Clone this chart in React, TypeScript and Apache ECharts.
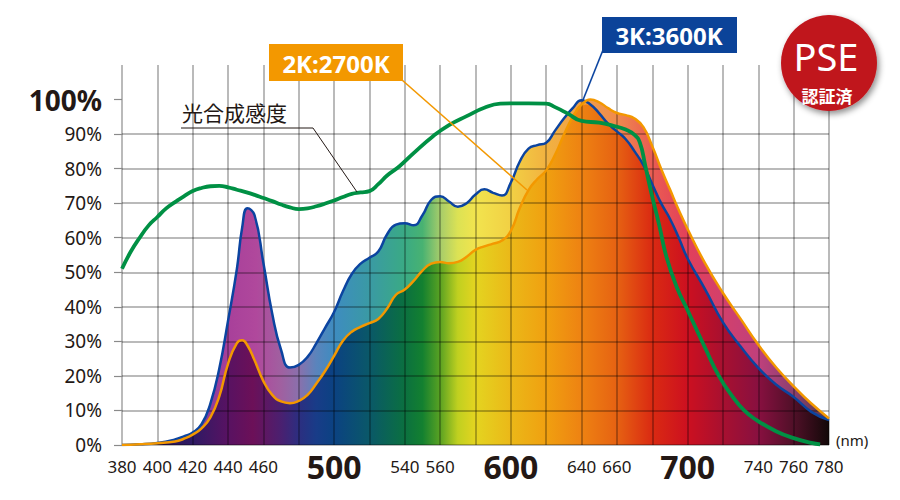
import React, { useEffect, useRef } from "react";
import * as echarts from "echarts";

// Wavelength grid (nm) shared by the two lamp spectra
const NM = [
  380, 390, 400, 410, 415, 420, 425, 430, 435, 440, 445, 448, 451,
  455, 460, 465, 470, 475, 480, 485, 490, 495, 500, 505, 510, 515, 520, 525, 530, 535, 540,
  545, 550, 555, 560, 565, 570, 575, 580, 585, 590, 595, 600, 605, 610, 615, 620, 625, 630,
  635, 640, 645, 650, 655, 660, 665, 670, 675, 680, 685, 690, 695, 700,
  710, 720, 730, 740, 750, 760, 770, 780,
];

// 3K:3600K relative spectrum (%)
const BLUE_3K = [
  0, 0.2, 0.6, 1.6, 2.5, 3.6, 6, 12, 22, 36, 51, 63, 68.5,
  66.5, 52.7, 38, 27.5, 22.4, 23.2, 25.5, 29.5, 34, 38.5, 44.5, 49.5, 52.5, 54.2, 56, 61, 63.8, 64.2,
  63.6, 66.5, 71, 72, 70.5, 69, 70, 72.5, 74, 73, 72.2, 76, 82, 85.8, 86.8, 87.5, 91, 94.5,
  97.5, 99.8, 98.6, 96, 93, 90.8, 88.5, 85, 81, 75.5, 70, 65.5, 60, 54,
  45, 35.5, 28.5, 22.3, 17.5, 13.9, 9.6, 7.2,
];

// 2K:2700K relative spectrum (%)
const ORANGE_2K = [
  0, 0.2, 0.5, 1.0, 1.8, 3.0, 4.8, 8, 14, 23.5, 29.5, 30.3, 28.8,
  24.5, 18.5, 14.5, 12.6, 12.1, 12.8, 14.5, 17.8, 21.5, 25.8, 30.2, 32.8, 34.2, 35.3, 36.5, 39.5, 43.5, 45,
  47.5, 50.5, 52.5, 53, 52.6, 53, 54.5, 56.5, 57.5, 58.3, 59.2, 62, 68.5, 73.8, 77, 79.5, 84, 89.8,
  95, 98.5, 100, 99.2, 97.5, 96.1, 95.5, 94.5, 92, 86.5, 80, 74, 68, 62.5,
  52.5, 44, 36.5, 29, 22.5, 17, 12, 7.7,
];

// Photosynthetic sensitivity curve (光合成感度)
const GREEN_NM = [
  380, 385, 390, 395, 400, 405, 410, 415, 420, 425, 430, 435, 440, 445, 450, 455, 460, 465, 470, 475,
  480, 485, 490, 495, 500, 505, 510, 515, 520, 525, 530,
  537, 545, 556, 565, 575, 585, 594, 600, 610, 620, 625, 632, 640, 650, 658, 665, 670, 673, 676,
  679, 684, 688, 694, 700, 710, 718, 725, 732, 739, 750, 760, 770, 775,
];
const GREEN = [
  51, 56, 60, 63.5, 66, 68.5, 70.3, 72, 73.5, 74.4, 74.9, 75, 74.6, 73.9, 73.2, 72.4, 71.5, 70.6, 69.6, 68.8,
  68.3, 68.5, 69.1, 69.9, 70.8, 71.8, 72.7, 73.1, 73.5, 75.5, 78,
  80.7, 84.5, 89.4, 92.6, 95.2, 97.6, 98.8, 98.9, 98.9, 98.8, 97.8, 96, 93.8, 93.3, 92.4, 91.3, 89.8, 87.5, 81,
  74, 63.5, 54.5, 45.5, 39, 28, 19.7, 14.3, 10, 7.2, 4, 2, 0.6, 0.2,
];

// Axis ticks / labels
const Y_TICKS = [0, 10, 20, 30, 40, 50, 60, 70, 80, 90, 100];
const X_BIG_LABELS = [500, 600, 700];
const X_SMALL_LABELS = [380, 400, 420, 440, 460, 540, 560, 640, 660, 740, 760, 780];

const TXT = "#231815";
const FONT = "'Noto Sans', 'Noto Sans CJK JP', sans-serif";
const CJK = "'Noto Sans CJK JP', 'Noto Sans', sans-serif";

const DARK_STOPS: [number, string][] = [
  [0.0, "#2a1040"], [0.1, "#2e1a64"], [0.15, "#581262"], [0.185, "#6c1058"],
  [0.225, "#4a2070"], [0.25, "#2c2e80"], [0.275, "#183c88"], [0.3, "#0b4282"],
  [0.35, "#0a5868"], [0.4, "#0b7040"], [0.425, "#138030"], [0.45, "#5aa222"],
  [0.475, "#c0d020"], [0.5, "#e4d420"], [0.55, "#ebb818"], [0.6, "#f0a010"],
  [0.65, "#ee8212"], [0.7, "#e66212"], [0.75, "#da2a12"], [0.8, "#cc1020"],
  [0.85, "#a81030"], [0.9, "#881040"], [0.95, "#501028"], [1.0, "#120808"],
];
const LIGHT_STOPS: [number, string][] = [
  [0.0, "#7a4a90"], [0.1, "#7a3a9a"], [0.15, "#a8409a"], [0.19, "#b0489c"],
  [0.225, "#a060a0"], [0.25, "#8a70ac"], [0.275, "#5a84bc"], [0.3, "#3e8cc0"],
  [0.35, "#3a9aa4"], [0.4, "#3aaa84"], [0.425, "#48b272"], [0.45, "#a6cc6a"],
  [0.475, "#dce254"], [0.5, "#f2e44e"], [0.55, "#f2d044"], [0.6, "#f2b240"],
  [0.65, "#f0a048"], [0.7, "#f08a4e"], [0.75, "#ea5c52"], [0.8, "#e2405a"],
  [0.85, "#d2406c"], [0.9, "#c0407c"], [0.95, "#8a4070"], [1.0, "#583848"],
];

const grad = (stops: [number, string][]) =>
  new echarts.graphic.LinearGradient(0, 0, 1, 0, stops.map(([offset, color]) => ({ offset, color })));

export default function App() {
  const ref = useRef<HTMLDivElement>(null);
  useEffect(() => {
    if (!ref.current) return;
    const chart = echarts.init(ref.current, undefined, { renderer: "svg" });
    const blue = NM.map((x, i) => [x, BLUE_3K[i]]);
    const orange = NM.map((x, i) => [x, ORANGE_2K[i]]);
    const lower = NM.map((x, i) => [x, Math.min(BLUE_3K[i], ORANGE_2K[i])]);
    const green = GREEN_NM.map((x, i) => [x, GREEN[i]]);
    const smooth = 0.5;
    const fillBase = {
      type: "line",
      smooth,
      showSymbol: false,
      symbol: "none",
      lineStyle: { width: 0, opacity: 0 },
      z: 1,
      silent: true,
    };
    chart.setOption({
      animation: false,
      grid: { left: 122, right: 71, top: 65, bottom: 55 },
      xAxis: {
        type: "value",
        min: 380,
        max: 780,
        interval: 20,
        z: 3,
        axisLine: { show: false },
        axisTick: { show: false },
        splitLine: { show: true, lineStyle: { color: "rgba(0,0,0,0.36)", width: 1.5 } },
        axisLabel: {
          customValues: [...X_SMALL_LABELS, ...X_BIG_LABELS].sort((a, b) => a - b),
          margin: 21,
          verticalAlign: "middle",
          formatter: (v: number) =>
            X_BIG_LABELS.includes(v) ? `{b|${v}}` : X_SMALL_LABELS.includes(v) ? `{s|${v}}` : "",
          rich: {
            b: { fontSize: 32, fontWeight: "bold", color: TXT, fontFamily: FONT },
            s: { fontSize: 17, color: TXT, fontFamily: FONT },
          },
        },
      },
      yAxis: {
        type: "value",
        min: 0,
        max: 110,
        interval: 10,
        z: 3,
        axisLine: { show: false },
        axisTick: {
          show: true,
          customValues: Y_TICKS,
          length: 8,
          lineStyle: { color: "#8a8a8a", width: 1.2 },
        },
        splitLine: {
          show: true,
          showMaxLine: false,
          lineStyle: { color: "rgba(0,0,0,0.36)", width: 1.5 },
        },
        axisLabel: {
          customValues: Y_TICKS,
          margin: 20,
          formatter: (v: number) => (v === 100 ? `{b|${v}%}` : v > 100 ? "" : `{s|${v}%}`),
          rich: {
            b: { fontSize: 28, fontWeight: "bold", color: TXT, fontFamily: FONT },
            s: { fontSize: 19, color: TXT, fontFamily: FONT },
          },
        },
      },
      series: [
        { ...fillBase, name: "3K fill", data: blue, areaStyle: { color: grad(LIGHT_STOPS), opacity: 1 } },
        { ...fillBase, name: "2K fill", data: orange, areaStyle: { color: grad(LIGHT_STOPS), opacity: 1 } },
        { ...fillBase, name: "inner fill", data: lower, areaStyle: { color: grad(DARK_STOPS), opacity: 1 } },
        {
          type: "line", name: "3K:3600K", data: blue, smooth, symbol: "none",
          lineStyle: { color: "#0b44a0", width: 2.5 }, z: 5,
        },
        {
          type: "line", name: "2K:2700K", data: orange, smooth, symbol: "none",
          lineStyle: { color: "#f39800", width: 2.5 }, z: 5,
        },
        {
          type: "line", name: "光合成感度", data: green, smooth, symbol: "none",
          lineStyle: { color: "#009044", width: 3.8 }, z: 6,
        },
      ],
      graphic: [
        // 光合成感度 label + leader
        {
          type: "text", left: 182, top: 101, z: 20,
          style: { text: "光合成感度", fontSize: 21, fill: TXT, fontFamily: CJK },
        },
        {
          type: "polyline", z: 20,
          shape: { points: [[181, 128], [313, 128], [357, 192]] },
          style: { stroke: TXT, lineWidth: 1, fill: "none" },
        },
        // 2K box + leader
        {
          type: "line", z: 20,
          shape: { x1: 402, y1: 80, x2: 527, y2: 190 },
          style: { stroke: "#f39800", lineWidth: 1.6 },
        },
        {
          type: "rect", z: 21,
          shape: { x: 269, y: 44, width: 134, height: 37 },
          style: { fill: "#f39800" },
        },
        {
          type: "text", z: 22, x: 336, y: 63,
          style: {
            text: "2K:2700K", fontSize: 24, fontWeight: "bold", fill: "#fff", fontFamily: FONT,
            align: "center", verticalAlign: "middle",
          },
        },
        // 3K box + leader
        {
          type: "line", z: 20,
          shape: { x1: 603, y1: 50, x2: 583, y2: 100 },
          style: { stroke: "#0b44a0", lineWidth: 1.6 },
        },
        {
          type: "rect", z: 21,
          shape: { x: 602, y: 17, width: 135, height: 36 },
          style: { fill: "#0b4399" },
        },
        {
          type: "text", z: 22, x: 669, y: 35,
          style: {
            text: "3K:3600K", fontSize: 24, fontWeight: "bold", fill: "#fff", fontFamily: FONT,
            align: "center", verticalAlign: "middle",
          },
        },
        // (nm)
        {
          type: "text", z: 20, x: 836, y: 440,
          style: { text: "(nm)", fontSize: 15, fill: TXT, fontFamily: FONT, verticalAlign: "middle" },
        },
        // PSE badge
        {
          type: "circle", z: 30,
          shape: { cx: 829, cy: 63, r: 48 },
          style: {
            fill: "#c0141b", shadowBlur: 6, shadowOffsetX: 2, shadowOffsetY: 3,
            shadowColor: "rgba(0,0,0,0.45)",
          },
        },
        {
          type: "text", z: 31, x: 826, y: 56,
          style: {
            text: "PSE", fontSize: 38, fill: "#fff", fontFamily: FONT,
            align: "center", verticalAlign: "middle",
          },
        },
        {
          type: "text", z: 31, x: 827, y: 95,
          style: {
            text: "認証済", fontSize: 17, fontWeight: "bold", fill: "#fff", fontFamily: CJK,
            align: "center", verticalAlign: "middle",
          },
        },
      ],
    });
    return () => chart.dispose();
  }, []);
  return (
    <div
      ref={ref}
      style={{ position: "absolute", left: 0, top: 0, width: 900, height: 500 }}
    />
  );
}
